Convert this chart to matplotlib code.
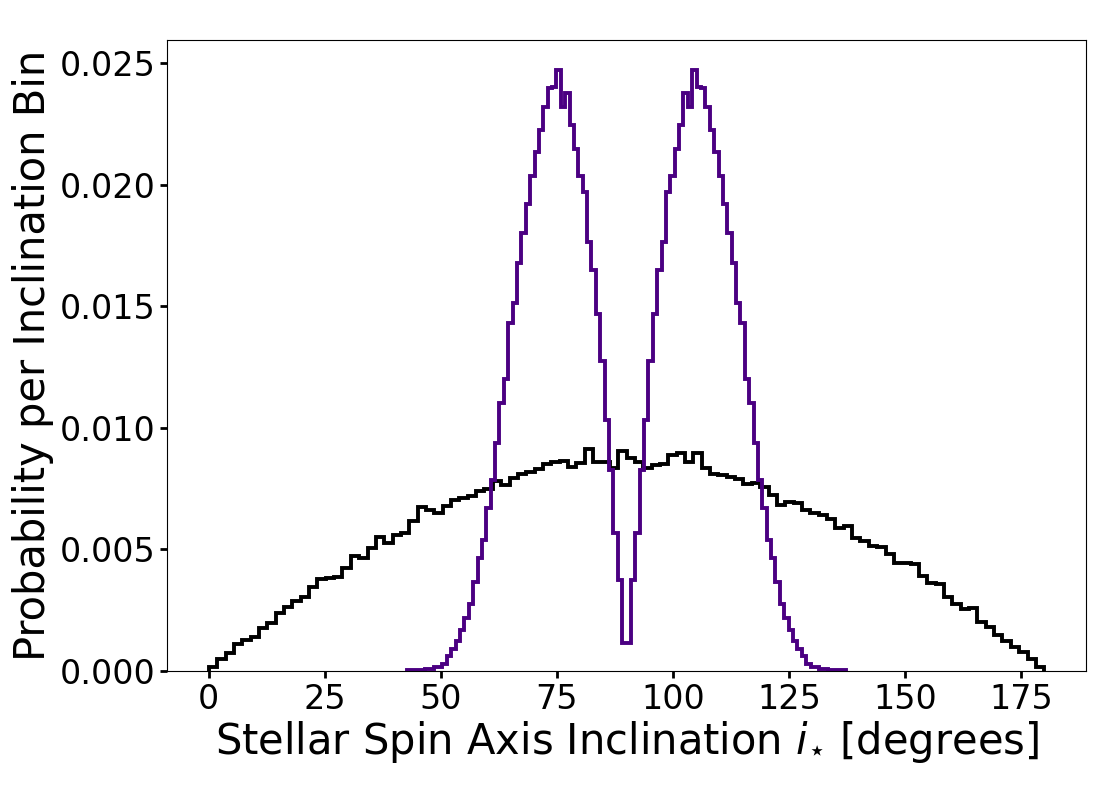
import numpy as np
import matplotlib
matplotlib.use("Agg")
import matplotlib.pyplot as plt

# Black histogram: 100 bins over 0-180 degrees
black_edges_range = (0.0, 180.0)
black_values = [
    0.00018, 0.0005, 0.00073, 0.0011, 0.00127, 0.00138, 0.00178, 0.00199, 0.00237, 0.00264,
    0.00288, 0.00305, 0.00344, 0.00378, 0.00384, 0.00388, 0.00425, 0.00473, 0.00466, 0.00507,
    0.00552, 0.00525, 0.00559, 0.00568, 0.00618, 0.00673, 0.00662, 0.00648, 0.00678, 0.00705,
    0.00711, 0.00719, 0.0074, 0.0075, 0.00781, 0.00764, 0.00792, 0.00812, 0.00819, 0.00829,
    0.00853, 0.0086, 0.00864, 0.0084, 0.00856, 0.00915, 0.0086, 0.0086, 0.00833, 0.00904,
    0.00878, 0.0086, 0.00833, 0.00847, 0.0085, 0.00888, 0.00895, 0.0086, 0.00895, 0.00833,
    0.0081, 0.00805, 0.00796, 0.00789, 0.00771, 0.00774, 0.00758, 0.00723, 0.00682, 0.00696,
    0.00692, 0.00662, 0.00648, 0.00641, 0.00625, 0.00589, 0.00596, 0.00545, 0.00534, 0.00514,
    0.00511, 0.00481, 0.00445, 0.00445, 0.0044, 0.0039, 0.00363, 0.00356, 0.00305, 0.00275,
    0.00253, 0.00258, 0.00203, 0.00182, 0.00148, 0.00125, 0.001, 0.0008, 0.00048, 0.00018,
]

# Purple histogram: 100 bins over 42.8-137.2 degrees
purple_edges_range = (42.8, 137.2)
purple_values = [
    0.00003, 0.00003, 0.00003, 0.00005, 0.00008, 0.00008, 0.00015, 0.00015, 0.0003, 0.0006,
    0.0009, 0.00125, 0.00169, 0.00216, 0.00277, 0.00367, 0.00463, 0.00539, 0.00669, 0.00785,
    0.00936, 0.01103, 0.01199, 0.0143, 0.01512, 0.01679, 0.018, 0.01919, 0.02037, 0.02135,
    0.02227, 0.02318, 0.02396, 0.02403, 0.02471, 0.0232, 0.02379, 0.02245, 0.02145, 0.02037,
    0.01971, 0.01765, 0.01649, 0.01467, 0.01275, 0.01032, 0.00826, 0.00566, 0.00374, 0.00114,
    0.00114, 0.00374, 0.00566, 0.00826, 0.01032, 0.01275, 0.01467, 0.01649, 0.01765, 0.01971,
    0.02037, 0.02145, 0.02245, 0.02379, 0.0232, 0.02471, 0.02403, 0.02396, 0.02318, 0.02227,
    0.02135, 0.02037, 0.01919, 0.018, 0.01679, 0.01512, 0.0143, 0.01199, 0.01103, 0.00936,
    0.00785, 0.00669, 0.00539, 0.00463, 0.00367, 0.00277, 0.00216, 0.00169, 0.00125, 0.0009,
    0.0006, 0.0003, 0.00015, 0.00015, 0.00008, 0.00008, 0.00005, 0.00003, 0.00003, 0.00003,
]

x_ticks = [0, 25, 50, 75, 100, 125, 150, 175]
y_ticks = [0.000, 0.005, 0.010, 0.015, 0.020, 0.025]

black_edges = np.linspace(black_edges_range[0], black_edges_range[1], len(black_values) + 1)
purple_edges = np.linspace(purple_edges_range[0], purple_edges_range[1], len(purple_values) + 1)

fig = plt.figure(figsize=(11.15, 7.88), dpi=100)
ax = fig.add_axes([0.1498, 0.1485, 0.9740 - 0.1498, 0.949 - 0.1485])

ax.stairs(black_values, black_edges, color="black", linewidth=2.8, baseline=0)
ax.stairs(purple_values, purple_edges, color="#4B0082", linewidth=2.8, baseline=0)

ax.set_xticks(x_ticks)
ax.set_yticks(y_ticks)
ax.set_yticklabels([f"{v:.3f}" for v in y_ticks])
ax.tick_params(axis="both", labelsize=24, length=5, width=2)
ax.set_xlabel(r"Stellar Spin Axis Inclination $i_{\star}$ [degrees]", fontsize=30, labelpad=2)
ax.set_ylabel("Probability per Inclination Bin", fontsize=30, labelpad=4)
ax.margins(x=0.05, y=0.05)
ax.set_ylim(bottom=0)

fig.savefig("out.png", dpi=100)
